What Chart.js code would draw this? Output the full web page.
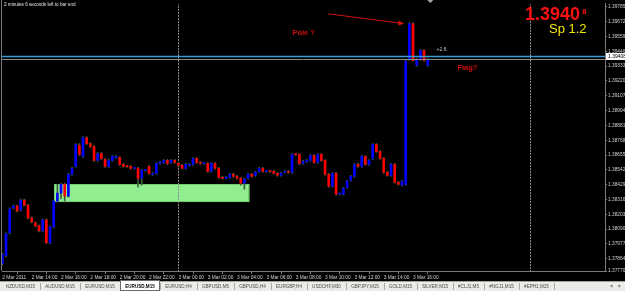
<!DOCTYPE html>
<html>
<head>
<meta charset="utf-8">
<title>EURUSD,M15</title>
<script src="https://cdn.jsdelivr.net/npm/chart.js@4.4.1/dist/chart.umd.min.js"></script>
<style>
  html, body { margin: 0; padding: 0; background: #000; overflow: hidden; }
  #chart { display: block; }
</style>
</head>
<body>
<canvas id="chart" width="625" height="291"></canvas>
<script>
'use strict';

// EURUSD M15 bars, first bar is 2 Mar 2011 12:00, one entry per bar
var opens = [
  1.37827, 1.37888, 1.38062, 1.38251, 1.38266, 1.38236, 1.38311, 1.38273, 1.38175, 1.38137,
  1.38115, 1.38077, 1.38160, 1.37986, 1.38107, 1.38304, 1.38364, 1.38432, 1.38341, 1.38508,
  1.38568, 1.38727, 1.38644, 1.38787, 1.38742, 1.38719, 1.38614, 1.38666, 1.38621, 1.38568,
  1.38614, 1.38636, 1.38636, 1.38583, 1.38568, 1.38568, 1.38553, 1.38553, 1.38477, 1.38538,
  1.38568, 1.38508, 1.38515, 1.38591, 1.38598, 1.38614, 1.38598, 1.38614, 1.38591, 1.38576,
  1.38553, 1.38576, 1.38583, 1.38629, 1.38598, 1.38591, 1.38591, 1.38530, 1.38591, 1.38553,
  1.38485, 1.38477, 1.38485, 1.38508, 1.38493, 1.38477, 1.38440, 1.38477, 1.38508, 1.38500,
  1.38530, 1.38553, 1.38530, 1.38532, 1.38530, 1.38515, 1.38500, 1.38523, 1.38530, 1.38523,
  1.38659, 1.38659, 1.38591, 1.38606, 1.38614, 1.38651, 1.38598, 1.38659, 1.38614, 1.38508,
  1.38417, 1.38515, 1.38357, 1.38357, 1.38409, 1.38462, 1.38493, 1.38583, 1.38568, 1.38644,
  1.38583, 1.38629, 1.38735, 1.38682, 1.38629, 1.38523, 1.38500, 1.38583, 1.38447, 1.38425,
  1.38432, 1.39385, 1.39657, 1.39339, 1.39385, 1.39453, 1.39339
];
var highs = [
  1.37905, 1.38062, 1.38251, 1.38273, 1.38273, 1.38319, 1.38319, 1.38281, 1.38183, 1.38145,
  1.38122, 1.38168, 1.38168, 1.38115, 1.38311, 1.38432, 1.38440, 1.38440, 1.38515, 1.38561,
  1.38742, 1.38742, 1.38795, 1.38795, 1.38750, 1.38727, 1.38674, 1.38674, 1.38629, 1.38621,
  1.38651, 1.38651, 1.38644, 1.38591, 1.38576, 1.38576, 1.38561, 1.38561, 1.38546, 1.38546,
  1.38576, 1.38523, 1.38598, 1.38606, 1.38621, 1.38621, 1.38621, 1.38621, 1.38598, 1.38583,
  1.38591, 1.38591, 1.38636, 1.38636, 1.38606, 1.38598, 1.38598, 1.38598, 1.38598, 1.38561,
  1.38493, 1.38493, 1.38515, 1.38515, 1.38500, 1.38485, 1.38477, 1.38515, 1.38515, 1.38530,
  1.38561, 1.38561, 1.38538, 1.38538, 1.38538, 1.38523, 1.38523, 1.38538, 1.38538, 1.38666,
  1.38666, 1.38666, 1.38614, 1.38621, 1.38659, 1.38659, 1.38666, 1.38666, 1.38621, 1.38515,
  1.38523, 1.38523, 1.38364, 1.38409, 1.38462, 1.38500, 1.38591, 1.38591, 1.38651, 1.38651,
  1.38621, 1.38742, 1.38742, 1.38689, 1.38636, 1.38530, 1.38591, 1.38591, 1.38455, 1.38462,
  1.39377, 1.39665, 1.39665, 1.39392, 1.39460, 1.39460, 1.39392
];
var lows = [
  1.37815, 1.37880, 1.38054, 1.38243, 1.38221, 1.38228, 1.38266, 1.38168, 1.38137, 1.38107,
  1.38069, 1.38069, 1.37979, 1.37979, 1.38100, 1.38296, 1.38319, 1.38304, 1.38334, 1.38500,
  1.38561, 1.38651, 1.38636, 1.38735, 1.38712, 1.38606, 1.38606, 1.38621, 1.38561, 1.38561,
  1.38606, 1.38629, 1.38576, 1.38561, 1.38561, 1.38546, 1.38546, 1.38409, 1.38425, 1.38530,
  1.38508, 1.38500, 1.38508, 1.38583, 1.38591, 1.38583, 1.38591, 1.38591, 1.38568, 1.38546,
  1.38546, 1.38568, 1.38576, 1.38591, 1.38583, 1.38583, 1.38523, 1.38523, 1.38546, 1.38477,
  1.38470, 1.38470, 1.38477, 1.38485, 1.38470, 1.38425, 1.38394, 1.38470, 1.38485, 1.38493,
  1.38523, 1.38523, 1.38523, 1.38523, 1.38508, 1.38493, 1.38493, 1.38515, 1.38515, 1.38515,
  1.38651, 1.38583, 1.38583, 1.38598, 1.38606, 1.38591, 1.38591, 1.38606, 1.38500, 1.38409,
  1.38409, 1.38349, 1.38349, 1.38349, 1.38402, 1.38455, 1.38485, 1.38561, 1.38561, 1.38576,
  1.38576, 1.38621, 1.38674, 1.38621, 1.38515, 1.38493, 1.38493, 1.38440, 1.38425, 1.38417,
  1.38425, 1.39377, 1.39370, 1.39332, 1.39377, 1.39370, 1.39332
];
var closes = [
  1.37895, 1.38054, 1.38243, 1.38266, 1.38228, 1.38311, 1.38273, 1.38175, 1.38145, 1.38115,
  1.38077, 1.38160, 1.37986, 1.38107, 1.38304, 1.38364, 1.38432, 1.38341, 1.38508, 1.38553,
  1.38735, 1.38659, 1.38787, 1.38742, 1.38719, 1.38614, 1.38666, 1.38629, 1.38568, 1.38614,
  1.38644, 1.38644, 1.38583, 1.38568, 1.38566, 1.38553, 1.38555, 1.38477, 1.38538, 1.38540,
  1.38515, 1.38515, 1.38591, 1.38598, 1.38614, 1.38591, 1.38614, 1.38598, 1.38576, 1.38553,
  1.38583, 1.38583, 1.38629, 1.38598, 1.38591, 1.38593, 1.38530, 1.38591, 1.38553, 1.38485,
  1.38477, 1.38485, 1.38508, 1.38493, 1.38477, 1.38440, 1.38470, 1.38508, 1.38493, 1.38523,
  1.38553, 1.38530, 1.38532, 1.38530, 1.38515, 1.38500, 1.38515, 1.38530, 1.38523, 1.38659,
  1.38657, 1.38591, 1.38606, 1.38614, 1.38651, 1.38598, 1.38659, 1.38614, 1.38508, 1.38417,
  1.38515, 1.38357, 1.38359, 1.38402, 1.38455, 1.38493, 1.38583, 1.38568, 1.38644, 1.38583,
  1.38614, 1.38735, 1.38682, 1.38629, 1.38523, 1.38500, 1.38583, 1.38447, 1.38432, 1.38455,
  1.39370, 1.39657, 1.39377, 1.39385, 1.39453, 1.39377, 1.39385
];

// price scale labels
var priceTicks = [
  1.39785, 1.39672, 1.39559, 1.39446, 1.39333, 1.39220, 1.39107, 1.38994, 1.38881, 1.38768,
  1.38655, 1.38542, 1.38429, 1.38316, 1.38203, 1.38090, 1.37977, 1.37864, 1.37770
];
var priceMin = 1.37770;
var priceMax = 1.39808;

// time scale labels, every 8 bars (2 hours)
var timeTickBars = [0, 8, 16, 24, 32, 40, 48, 56, 64, 72, 80, 88, 96, 104, 112];
var timeTickLabels = [
  '2 Mar 2011', '2 Mar 14:00', '2 Mar 16:00', '2 Mar 18:00', '2 Mar 20:00', '2 Mar 22:00',
  '3 Mar 00:00', '3 Mar 02:00', '3 Mar 04:00', '3 Mar 06:00', '3 Mar 08:00', '3 Mar 10:00',
  '3 Mar 12:00', '3 Mar 14:00', '3 Mar 16:00'
];
var separatorBars = [48, 144];   // day separators

// quotes
var bid = 1.39408;
var spread = 1.2;
var levelPrice = 1.39385;
var timerMinutes = 2;
var timerSeconds = 6;

// chart objects (bar index / price anchors)
var zoneBars = [14.2, 67.4];
var zonePrices = [1.38432, 1.38296];
var arrowBars = [88.9, 109.6];
var arrowPrices = [1.39732, 1.39657];
var notes = [
  { text: 'Pole ?', bar: 79.1, price: 1.39589 },
  { text: 'Flag?', bar: 124.1, price: 1.39317 }
];
var tagNote = { text: '+2.6', bar: 118.4, price: 1.39461 };
var shiftBar = 116.7;

var tabNames = [
  'NZDUSD,M15', 'AUDUSD,M15', 'EURUSD,M15', 'EURUSD,M15', 'EURUSD,H4', 'GBPUSD,M5',
  'GBPUSD,H4', 'EURGBP,H4', 'USDCHF,M30', 'GBPJPY,M15', 'GOLD,M15', 'SILVER,M15',
  '#CLJ1,M5', '#NGJ1,M15', '#EPH1,M15'
];
var activeTab = 3;

var FONT = '"Liberation Sans", Arial, sans-serif';
var BULL = '#0000ff';
var BEAR = '#ff0000';

var bodies = [];
var wicks = [];
for (var i = 0; i < opens.length; i++) {
  bodies.push({ x: i, y: [opens[i], closes[i]] });
  wicks.push({ x: i, y: [lows[i], highs[i]] });
}

function barColor(c) {
  return closes[c.dataIndex] >= opens[c.dataIndex] ? BULL : BEAR;
}

var mtObjects = {
  id: 'mtObjects',
  beforeDatasetsDraw: function(chart) {
    var ctx = chart.ctx, a = chart.chartArea;
    var xs = chart.scales.x, ys = chart.scales.y;
    ctx.save();
    ctx.beginPath();
    ctx.rect(a.left, a.top, a.right - a.left, a.bottom - a.top);
    ctx.clip();

    // rectangle
    var zx1 = xs.getPixelForValue(zoneBars[0]);
    var zx2 = xs.getPixelForValue(zoneBars[1]);
    var zy1 = ys.getPixelForValue(zonePrices[0]);
    var zy2 = ys.getPixelForValue(zonePrices[1]);
    ctx.fillStyle = '#90ee90';
    ctx.fillRect(zx1, zy1, zx2 - zx1, zy2 - zy1);
    ctx.strokeStyle = '#6fcf6f';
    ctx.lineWidth = 1;
    ctx.strokeRect(Math.round(zx1) + 0.5, Math.round(zy1) + 0.5, Math.round(zx2 - zx1) - 1, Math.round(zy2 - zy1) - 1);

    // day separators
    ctx.strokeStyle = '#8c8c8c';
    ctx.setLineDash([2, 1]);
    separatorBars.forEach(function(b) {
      var px = Math.round(xs.getPixelForValue(b)) + 0.5;
      ctx.beginPath();
      ctx.moveTo(px, a.top - 1);
      ctx.lineTo(px, a.bottom);
      ctx.stroke();
    });
    ctx.restore();
  },
  afterDatasetsDraw: function(chart) {
    var ctx = chart.ctx, a = chart.chartArea;
    var xs = chart.scales.x, ys = chart.scales.y;
    ctx.save();

    // horizontal lines
    var by = Math.round(ys.getPixelForValue(bid)) + 0.5;
    ctx.strokeStyle = '#3b9ad6';
    ctx.lineWidth = 1.5;
    ctx.beginPath(); ctx.moveTo(a.left, by); ctx.lineTo(a.right, by); ctx.stroke();
    var ly = Math.round(ys.getPixelForValue(levelPrice)) + 0.5;
    ctx.strokeStyle = '#8a8a8a';
    ctx.lineWidth = 1;
    ctx.beginPath(); ctx.moveTo(a.left, ly); ctx.lineTo(a.right, ly); ctx.stroke();

    // arrow
    var ax1 = xs.getPixelForValue(arrowBars[0]), ay1 = ys.getPixelForValue(arrowPrices[0]);
    var ax2 = xs.getPixelForValue(arrowBars[1]), ay2 = ys.getPixelForValue(arrowPrices[1]);
    var ang = Math.atan2(ay2 - ay1, ax2 - ax1);
    ctx.strokeStyle = '#d41010';
    ctx.fillStyle = '#d41010';
    ctx.lineWidth = 1;
    ctx.beginPath(); ctx.moveTo(ax1, ay1); ctx.lineTo(ax2 - 4 * Math.cos(ang), ay2 - 4 * Math.sin(ang)); ctx.stroke();
    ctx.beginPath();
    ctx.moveTo(ax2, ay2);
    ctx.lineTo(ax2 - 6 * Math.cos(ang) + 2.5 * Math.sin(ang), ay2 - 6 * Math.sin(ang) - 2.5 * Math.cos(ang));
    ctx.lineTo(ax2 - 6 * Math.cos(ang) - 2.5 * Math.sin(ang), ay2 - 6 * Math.sin(ang) + 2.5 * Math.cos(ang));
    ctx.closePath();
    ctx.fill();

    // text notes
    ctx.textBaseline = 'middle';
    ctx.textAlign = 'left';
    ctx.font = 'bold 7.5px ' + FONT;
    ctx.fillStyle = '#d00d0d';
    notes.forEach(function(n) {
      ctx.fillText(n.text, xs.getPixelForValue(n.bar), ys.getPixelForValue(n.price));
    });
    ctx.font = '5px ' + FONT;
    ctx.fillStyle = '#c8c8c8';
    ctx.fillText(tagNote.text, xs.getPixelForValue(tagNote.bar), ys.getPixelForValue(tagNote.price));

    // chart shift mark
    var sx = xs.getPixelForValue(shiftBar);
    ctx.fillStyle = '#a8a8a8';
    ctx.beginPath(); ctx.moveTo(sx - 3, 0); ctx.lineTo(sx + 3, 0); ctx.lineTo(sx, 3); ctx.closePath(); ctx.fill();

    // timer
    ctx.textBaseline = 'top';
    ctx.font = '4.6px ' + FONT;
    ctx.fillStyle = '#e6e6e6';
    ctx.fillText(timerMinutes + ' minutes ' + timerSeconds + ' seconds left to bar end', 4, 2.5);

    // big price and spread
    var bidText = bid.toFixed(5);
    ctx.textBaseline = 'alphabetic';
    ctx.textAlign = 'right';
    ctx.fillStyle = '#ff1010';
    ctx.font = 'bold 18px ' + FONT;
    ctx.fillText(bidText.slice(0, 6), 580, 19.5);
    ctx.textAlign = 'left';
    ctx.font = 'bold 8px ' + FONT;
    ctx.fillText(bidText.slice(6), 582, 13.5);
    ctx.fillStyle = '#f5e600';
    ctx.font = '13px ' + FONT;
    ctx.fillText('Sp ' + spread.toFixed(1), 549, 32.5);
    ctx.restore();
  },
  afterDraw: function(chart) {
    var ctx = chart.ctx, a = chart.chartArea, ys = chart.scales.y;
    ctx.save();

    // left frame
    ctx.strokeStyle = '#7a7a7a';
    ctx.lineWidth = 1;
    ctx.beginPath(); ctx.moveTo(1.5, 0); ctx.lineTo(1.5, a.bottom); ctx.stroke();

    // bid label on the price scale
    var by = Math.round(ys.getPixelForValue(bid));
    ctx.fillStyle = '#ffffff';
    ctx.fillRect(a.right + 1, by - 3, 625 - a.right - 1, 7);
    ctx.fillStyle = '#000000';
    ctx.font = '5px ' + FONT;
    ctx.textBaseline = 'middle';
    ctx.textAlign = 'left';
    ctx.fillText(bid.toFixed(5), a.right + 3, by + 0.5);

    // symbol tabs
    var top = 281;
    ctx.fillStyle = '#ecebe8';
    ctx.fillRect(0, top, 625, 10);
    ctx.strokeStyle = '#a0a0a0';
    ctx.beginPath(); ctx.moveTo(0, top + 0.5); ctx.lineTo(625, top + 0.5); ctx.stroke();
    var tx = 1;
    tabNames.forEach(function(name, k) {
      ctx.font = (k === activeTab ? 'bold ' : '') + '4.6px ' + FONT;
      var w = Math.round(ctx.measureText(name).width + 10);
      if (k === activeTab) {
        ctx.fillStyle = '#ffffff';
        ctx.fillRect(tx, top, w, 10);
        ctx.strokeStyle = '#6a6a6a';
        ctx.strokeRect(tx + 0.5, top - 0.5, w - 1, 10);
      }
      ctx.fillStyle = k === activeTab ? '#000000' : '#4a4a4a';
      ctx.textAlign = 'center';
      ctx.fillText(name, tx + w / 2, top + 5.5);
      tx += w;
      ctx.strokeStyle = '#a8a8a8';
      ctx.beginPath(); ctx.moveTo(tx + 0.5, top + 2); ctx.lineTo(tx + 0.5, top + 9); ctx.stroke();
    });
    ctx.fillStyle = '#707070';
    ctx.beginPath(); ctx.moveTo(610, top + 5); ctx.lineTo(612.5, top + 3.5); ctx.lineTo(612.5, top + 6.5); ctx.closePath(); ctx.fill();
    ctx.beginPath(); ctx.moveTo(621, top + 5); ctx.lineTo(618.5, top + 3.5); ctx.lineTo(618.5, top + 6.5); ctx.closePath(); ctx.fill();
    ctx.restore();
  }
};

var ctx = document.getElementById('chart').getContext('2d');

var mtChart = new Chart(ctx, {
  type: 'bar',
  data: {
    datasets: [
      {
        label: 'body',
        data: bodies,
        backgroundColor: barColor,
        borderWidth: 0,
        barThickness: 2,
        minBarLength: 1,
        grouped: false
      },
      {
        label: 'wick',
        data: wicks,
        backgroundColor: '#3f5a3f',
        borderWidth: 0,
        barThickness: 1,
        grouped: false
      }
    ]
  },
  options: {
    responsive: false,
    animation: false,
    devicePixelRatio: 1,
    layout: { padding: { left: 2, top: 1, right: 0, bottom: 10 } },
    plugins: {
      legend: { display: false },
      tooltip: { enabled: false }
    },
    scales: {
      x: {
        type: 'linear',
        min: -0.1,
        max: 164.34,
        offset: false,
        grid: { display: true, drawOnChartArea: false, drawTicks: true, tickLength: 3, color: '#7a7a7a' },
        border: { display: true, color: '#7a7a7a' },
        afterBuildTicks: function(axis) {
          axis.ticks = timeTickBars.map(function(v) { return { value: v }; });
        },
        afterFit: function(axis) { axis.height = 10; },
        ticks: {
          autoSkip: false,
          maxRotation: 0,
          align: 'start',
          padding: 1,
          color: '#d0d0d0',
          font: { size: 4.8, family: FONT },
          callback: function(v) {
            var k = timeTickBars.indexOf(v);
            return k >= 0 ? timeTickLabels[k] : '';
          }
        }
      },
      y: {
        type: 'linear',
        position: 'right',
        min: priceMin,
        max: priceMax,
        grid: { display: true, drawOnChartArea: false, drawTicks: true, tickLength: 2, color: '#7a7a7a' },
        border: { display: true, color: '#7a7a7a' },
        afterBuildTicks: function(axis) {
          axis.ticks = priceTicks.map(function(v) { return { value: v }; });
        },
        afterFit: function(axis) { axis.width = 20; },
        ticks: {
          autoSkip: false,
          padding: 1,
          color: '#d0d0d0',
          font: { size: 4.8, family: FONT },
          callback: function(v) { return v.toFixed(5); }
        }
      }
    }
  },
  plugins: [mtObjects]
});
</script>
</body>
</html>
